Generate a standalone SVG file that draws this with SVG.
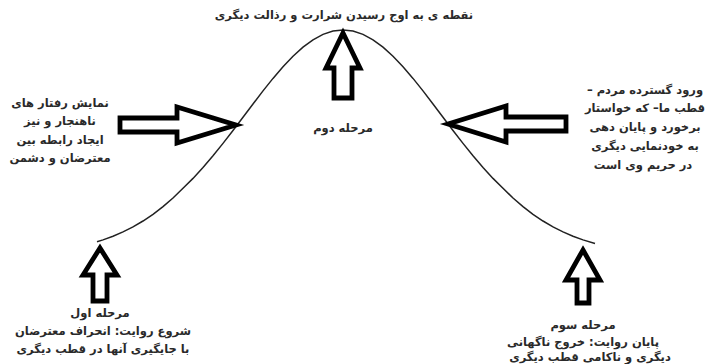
<svg xmlns="http://www.w3.org/2000/svg" width="712" height="364" viewBox="0 0 712 364">
<style>
text{font-family:"DejaVu Sans","Noto Sans",sans-serif;font-size:11.5px;font-weight:bold;fill:#2a2a2a;text-anchor:middle;direction:rtl}
.arrow{fill:#fff;stroke:#000;stroke-width:4.8;stroke-linejoin:miter;stroke-miterlimit:10}
.curve{fill:none;stroke:#222;stroke-width:1.5}
</style>
<rect width="712" height="364" fill="#fff"/>
<g id="connectors">
<polyline class="curve" points="97,241.8 103,239.9 113,236.2 123,231.9 133,226.9 143,221 153,214.3 163,206.6 173,198 183,188.3 193,178.4 203,167.5 213,155.8 223,143.4 233,130.5 243,117.2 253,104 263,90.9 273,78.4 283,66.7 293,56.2 303,47.2 313,39.8 323,34.4 333,31.1 343,30 353,31.1 363,34.4 373,39.8 383,47.2 393,56.2 403,66.7 413,78.4 423,90.9 433,104 443,117.2 453,130.5 463,143.4 473,155.8 483,167.5 493,178.4 503,188.3 513,198 523,206.6 533,214.3 543,221 553,226.9 563,231.9 573,236.2 583,239.9 595,243.5"/>
<polygon id="arrow-top" class="arrow" points="343,33 360,68 352,68 352,98 334,98 334,68 326,68"/>
<polygon id="arrow-left" class="arrow" points="236,125 177,143 177,132 120,132 120,118 177,118 177,107"/>
<polygon id="arrow-right" class="arrow" points="448,124 506,106 506,117 566,117 566,131 506,131 506,142"/>
<polygon id="arrow-bl" class="arrow" points="100,248 117,275 107,275 107,301 93,301 93,275 83,275"/>
<polygon id="arrow-br" class="arrow" points="583,250 600,280 589,280 589,303 577,303 577,280 566,280"/>
</g>
<g id="node-peak"><text x="344" y="19">نقطه ی به اوج رسیدن شرارت و رذالت دیگری</text></g>
<g id="node-stage2"><text x="343" y="132">مرحله دوم</text></g>
<g id="node-left">
<text x="60" y="107">نمایش رفتار های</text>
<text x="60" y="125">ناهنجار و نیز</text>
<text x="60" y="144">ایجاد رابطه بین</text>
<text x="60" y="162">معترضان و دشمن</text>
</g>
<g id="node-right">
<text x="645" y="94">ورود گسترده مردم –</text>
<text x="645" y="112">قطب ما– که خواستار</text>
<text x="645" y="131">برخورد و پایان دهی</text>
<text x="645" y="150">به خودنمایی دیگری</text>
<text x="643" y="169">در حریم وی است</text>
</g>
<g id="node-stage1">
<text x="100" y="317">مرحله اول</text>
<text x="103" y="335">شروع روایت: انحراف معترضان</text>
<text x="103" y="353">با جایگیری آنها در قطب دیگری</text>
</g>
<g id="node-stage3">
<text x="583" y="329">مرحله سوم</text>
<text x="583" y="346">پایان روایت: خروج ناگهانی</text>
<text x="590" y="361">دیگری و ناکامی قطب دیگری</text>
</g>
</svg>
